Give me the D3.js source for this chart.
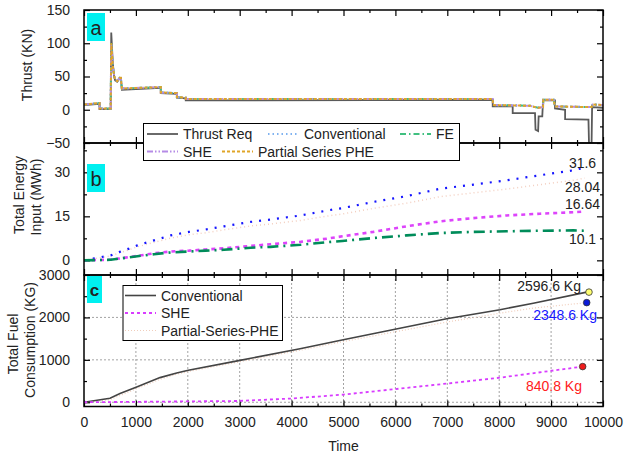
<!DOCTYPE html>
<html>
<head>
<meta charset="utf-8">
<script src="https://cdn.jsdelivr.net/npm/d3@7"></script>
<style>
  body { margin: 0; background: #fff; }
  svg text { font-family: "Liberation Sans", Arial, sans-serif; fill: #222; }
</style>
</head>
<body>
<div id="chart"></div>
<script>
// ---- data ----
// panel a: thrust profile
const thrustT = [0,300,300,514,525,555,580,600,640,690,710,730,1480,1480,1790,1790,1960,1960,7875,7875,8260,8260,8690,8700,8750,8760,8830,8845,9075,9075,9270,9270,9720,9730,9780,9790,10000];
const thrustReq = [7,9,1,1,116,70,50,44,42,48,48,30,33,25,24,18,17,14,15,5,5,-5,-5,-30,-32,-10,-10,14,14,2,0,-14,-15,-50,-50,4,3];
// the four configurations follow almost the same delivered thrust
const hybridT = [0,300,300,514,525,555,580,600,640,690,710,730,1480,1480,1790,1790,1960,1960,7875,7880,8600,8690,8750,8845,8850,9050,9075,9780,9800,10000];
const hybridV = [8,10,2,2,100,65,52,45,43,48,48,32,34,26,25,19,18,16,16,7,6,4,3,4,15,15,5,4,8,7];

// panel b: total energy input (MWh)
const energyT = [0,514,674,867,1027,1348,1669,2022,2343,2696,3210,3596,4174,4688,4977,5575,6217,6859,7501,8145,8786,9428,9650];
const convE = [0,1.7,2.8,4,5.1,6.8,8.5,9.7,10.5,11.6,13.1,13.9,15.3,17,17.8,19.9,21.9,24.4,25.8,27.3,29,30.7,31.6];
const pheE  = [0,1.5,2.5,3.6,4.6,6.1,7.6,8.7,9.4,10.4,11.7,12.4,13.6,15.1,15.8,17.7,19.5,21.7,23,24.3,25.8,27.3,28.04];
const sheE  = [0,0.2,0.6,1.1,1.5,2.4,3,3.3,3.7,4.1,4.9,5.5,6.3,7.4,8.2,9.7,11.6,13.3,14.4,15.3,15.9,16.4,16.64];
const feE   = [0,0.2,0.6,1,1.4,2.1,2.7,3,3.3,3.6,4.3,4.6,5.3,6.2,6.6,7.6,8.5,9.3,9.7,9.9,10.1,10.2,10.1];
const energyLabels = ["31.6","28.04","16.64","10.1"];

// panel c: total fuel consumption (KG)
const fuelT = [0,501,694,1015,1464,1786,2010,3006,4162,4996,6988,8015,8657,9686];
const convF = [0,95,205,360,581,690,753,988,1263,1475,1969,2181,2336,2596.6];
const pheF  = [0,60,160,320,540,660,725,955,1225,1430,1890,2100,2220,2348.6];
const sheT  = [0,2954,3982,4996,6988,8015,9608];
const sheF  = [0,30,87,180,440,580,840.8];
const markT = [9730,9686,9608];
const markV = [2596.6,2348.6,840.8];
const markLabels = ["2596.6 Kg","2348.6 Kg","840.8 Kg"];

// ---- layout ----
const W = 624, H = 454;
const FONT = '"Liberation Sans", Arial, sans-serif';
const x = d3.scaleLinear().domain([0,10000]).range([84,603]);
const yA = d3.scaleLinear().domain([-50,150]).range([143,10]);
const yB = d3.scaleLinear().domain([-5,40]).range([275,143]);
const yC = d3.scaleLinear().domain([-100,3000]).range([406.5,275]);

const svg = d3.select("#chart").append("svg").attr("width", W).attr("height", H)
  .style("font-family", FONT);

function zip(ts, vs){ return ts.map((t,i) => [t, vs[i]]); }

function panel(id, y, major, minor, xLabels){
  const g = svg.append("g");
  const [y0, y1] = y.range();
  svg.append("clipPath").attr("id", id).append("rect")
    .attr("x", x(0)).attr("y", y1).attr("width", x(10000)-x(0)).attr("height", y0-y1);

  const addAxis = (axis, tr, size, vals, fmt, pad) => {
    const a = g.append("g").attr("transform", tr)
      .call(axis.tickValues(vals).tickSize(size).tickPadding(pad).tickFormat(fmt));
    a.attr("font-family", FONT);
    a.select(".domain").remove();
    a.selectAll("line").attr("stroke", "#000").attr("stroke-width", 1.2);
    a.selectAll("text").attr("font-size", 14).attr("fill", "#222");
    return a;
  };
  const xMaj = d3.range(0, 10001, 1000), xMin = d3.range(500, 10000, 1000);
  addAxis(d3.axisLeft(y), `translate(${x(0)},0)`, -6, major, d3.format("d"), 14);
  addAxis(d3.axisLeft(y), `translate(${x(0)},0)`, -3, minor, "", 0);
  addAxis(d3.axisRight(y), `translate(${x(10000)},0)`, -6, major, "", 0);
  addAxis(d3.axisRight(y), `translate(${x(10000)},0)`, -3, minor, "", 0);
  addAxis(d3.axisTop(x), `translate(0,${y1})`, -6, xMaj, "", 0);
  addAxis(d3.axisTop(x), `translate(0,${y1})`, -3, xMin, "", 0);
  addAxis(d3.axisBottom(x), `translate(0,${y0})`, -6, xMaj, xLabels ? d3.format("d") : "", 11);
  addAxis(d3.axisBottom(x), `translate(0,${y0})`, -3, xMin, "", 0);
  return g;
}

function drawLine(y, clip, pts, color, width, dash){
  svg.append("path")
    .attr("clip-path", `url(#${clip})`)
    .attr("d", d3.line().x(d => x(d[0])).y(d => y(d[1]))(pts))
    .attr("fill", "none").attr("stroke", color).attr("stroke-width", width)
    .attr("stroke-dasharray", dash || null);
}

// ---- panel c grid (under everything) ----
const grid = svg.append("g");
d3.range(1000, 10000, 1000).forEach(t => grid.append("line")
  .attr("x1", x(t)).attr("x2", x(t)).attr("y1", yC(3000)).attr("y2", yC(-100)));
[0,1000,2000].forEach(v => grid.append("line")
  .attr("x1", x(0)).attr("x2", x(10000)).attr("y1", yC(v)).attr("y2", yC(v)));
grid.selectAll("line").attr("stroke", "#999").attr("stroke-width", 0.9).attr("stroke-dasharray", "2,2");

// ---- panel a ----
panel("clipA", yA, [-50,0,50,100,150], [-25,25,75,125], false);
drawLine(yA, "clipA", zip(thrustT, thrustReq), "#5a5a5a", 1.8);
const hybridStyles = [
  ["#7fb2f0", "1.5,3"],
  ["#40c080", "6,3,1.5,3"],
  ["#b58be6", "6,2,1.5,2,1.5,2"],
  ["#e0a528", "3,2"]
];
hybridStyles.forEach(s => {
  drawLine(yA, "clipA", zip(hybridT, hybridV), s[0], 2, s[1]);
});

// ---- panel b ----
panel("clipB", yB, [0,15,30], [7.5,22.5,37.5], false);
drawLine(yB, "clipB", zip(energyT, pheE), "#f3cfc0", 1.5, "1,3");
drawLine(yB, "clipB", zip(energyT, convE), "#1515ff", 2.2, "2,7");
drawLine(yB, "clipB", zip(energyT, sheE), "#dd44fb", 2.6, "4,4");
drawLine(yB, "clipB", zip(energyT, feE), "#008c5a", 2.6, "11,5,2,5");
const endVals = [convE, pheE, sheE, feE].map(a => a[a.length-1]);
const labelShift = [-5, 9, -8, 8];
energyLabels.forEach((s, i) => {
  svg.append("text").attr("x", 582.5).attr("y", yB(endVals[i]) + labelShift[i])
    .attr("text-anchor", "middle").attr("dominant-baseline", "central")
    .attr("font-size", 14).text(s);
});

// ---- panel c ----
panel("clipC", yC, [0,1000,2000,3000], [500,1500,2500], true);
drawLine(yC, "clipC", zip(fuelT, pheF), "#f0cdbb", 1.2, "1,2");
drawLine(yC, "clipC", zip(fuelT, convF), "#444", 1.6);
drawLine(yC, "clipC", zip(sheT, sheF), "#d83cff", 1.8, "3,3");
const markFill = ["#ffff70", "#0a1ad8", "#ee1c1c"];
const markText = ["#222", "#1515ff", "#ff2020"];
markT.forEach((t, i) => {
  svg.append("circle").attr("cx", x(t)).attr("cy", yC(markV[i])).attr("r", 3.3)
    .attr("fill", markFill[i]).attr("stroke", "#333").attr("stroke-width", 0.8);
});
[[581, -6], [597, 12], [582, 19]].forEach((p, i) => {
  svg.append("text").attr("x", p[0]).attr("y", yC(markV[i]) + p[1])
    .attr("text-anchor", "end").attr("dominant-baseline", "central")
    .attr("font-size", 14).style("fill", markText[i]).text(markLabels[i]);
});

// ---- frames ----
[yA, yB, yC].forEach(y => {
  const [y0, y1] = y.range();
  svg.append("rect").attr("x", x(0)).attr("y", y1).attr("width", x(10000)-x(0)).attr("height", y0-y1)
    .attr("fill", "none").attr("stroke", "#000").attr("stroke-width", 1.5);
});

// ---- legends ----
function legendItem(lx, ly, label, color, width, dash){
  svg.append("line").attr("x1", lx).attr("x2", lx + 31).attr("y1", ly).attr("y2", ly)
    .attr("stroke", color).attr("stroke-width", width).attr("stroke-dasharray", dash || null);
  svg.append("text").attr("x", lx + 36).attr("y", ly).attr("dominant-baseline", "central")
    .attr("font-size", 14).text(label);
}
svg.append("rect").attr("x", 143.5).attr("y", 123.5).attr("width", 316).attr("height", 37)
  .attr("fill", "#fff").attr("stroke", "#000").attr("stroke-width", 1);
legendItem(147, 134, "Thrust Req", "#5a5a5a", 1.8);
legendItem(268, 134, "Conventional", hybridStyles[0][0], 2, hybridStyles[0][1]);
legendItem(400, 134, "FE", hybridStyles[1][0], 2, hybridStyles[1][1]);
legendItem(147, 151.5, "SHE", hybridStyles[2][0], 2, hybridStyles[2][1]);
legendItem(222, 151.5, "Partial Series PHE", hybridStyles[3][0], 2, hybridStyles[3][1]);

svg.append("rect").attr("x", 123).attr("y", 285.5).attr("width", 159.5).attr("height", 55)
  .attr("fill", "#fff").attr("stroke", "#000").attr("stroke-width", 1);
legendItem(125, 295.5, "Conventional", "#444", 1.6);
legendItem(125, 313, "SHE", "#d83cff", 1.8, "3,3");
legendItem(125, 330.5, "Partial-Series-PHE", "#f0cdbb", 1.2, "1,2");

// ---- panel tags ----
[["a", 13, 28, 20], ["b", 164, 28, 20], ["c", 276, 27, 17]].forEach(([s, ty, h, fs]) => {
  svg.append("rect").attr("x", 87).attr("y", ty).attr("width", s === "c" ? 15 : 18).attr("height", h)
    .attr("fill", "#00f0f0");
  svg.append("text").attr("x", s === "c" ? 94.5 : 96).attr("y", ty + h/2 + 1)
    .attr("text-anchor", "middle").attr("dominant-baseline", "central")
    .attr("font-size", fs).attr("font-weight", s === "c" ? "bold" : "normal").text(s);
});

// ---- axis titles ----
function vTitle(cx, cy, s){
  svg.append("text").attr("transform", `translate(${cx},${cy}) rotate(-90)`)
    .attr("text-anchor", "middle").attr("dominant-baseline", "central")
    .attr("font-size", 14).text(s);
}
vTitle(27, 65, "Thrust (KN)");
vTitle(19, 195, "Total Energy");
vTitle(36, 197, "Input (MWh)");
vTitle(13, 344, "Total Fuel");
vTitle(30, 340, "Consumption (KG)");
svg.append("text").attr("x", 343.5).attr("y", 446).attr("text-anchor", "middle")
  .attr("dominant-baseline", "central").attr("font-size", 14).text("Time");
</script>
</body>
</html>
